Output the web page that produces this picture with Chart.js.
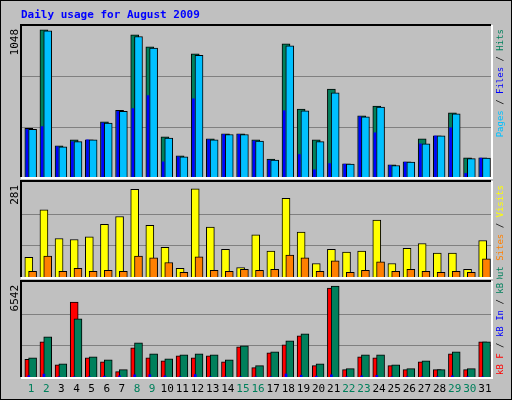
<!DOCTYPE html>
<html>
<head>
<meta charset="utf-8">
<script src="https://cdn.jsdelivr.net/npm/chart.js@4"></script>
<style>
  body { margin: 0; background: #fff; }
  #box { position: relative; width: 510px; height: 398px; background: #c0c0c0;
         border: 1px solid #000; overflow: hidden; }
  canvas { position: absolute; left: 0; }
</style>
</head>
<body>
<div id="box">
  <canvas id="top" width="512" height="178" style="top:0"></canvas>
  <canvas id="mid" width="512" height="100" style="top:178px"></canvas>
  <canvas id="bot" width="512" height="122" style="top:278px"></canvas>
</div>
<script>
const days = [];
for (let d = 1; d <= 31; d++) days.push(d);
const weekend = [1, 2, 8, 9, 15, 16, 22, 23, 29, 30];

const hits  = [337,1021,216,258,258,383,462,987,904,279,147,855,265,300,300,258,125,924,472,258,611,92,424,493,84,105,265,285,445,133,133];
const pages = [330,1014,210,245,258,375,455,975,895,270,140,845,258,295,295,250,117,910,460,246,584,89,418,486,80,103,230,285,438,128,131];
const files = [330,350,210,245,258,375,455,475,565,105,140,543,258,295,295,250,115,460,156,50,93,89,418,307,80,103,230,285,342,25,131];

const visits = [58,199,114,111,119,156,179,259,153,88,26,261,148,82,28,125,77,233,133,40,82,74,77,168,40,85,99,71,71,23,108];
const sites  = [17,62,17,26,17,20,17,62,57,43,14,60,20,17,23,20,23,65,57,17,48,14,20,45,17,23,17,14,17,14,54];

const kbF   = [1213,2422,846,5167,1327,1052,366,2011,1327,1120,1464,1327,1464,1052,2080,641,1670,2217,2834,778,6130,503,1395,1327,778,503,1052,503,1601,503,2422];
const kbIn  = [90,200,20,20,20,60,80,150,160,80,20,170,20,20,20,20,20,210,120,60,150,20,80,110,20,20,20,20,80,20,20];
const kbOut = [1327,2765,915,4000,1395,1189,503,2354,1601,1258,1533,1601,1533,1189,2148,778,1738,2491,2971,915,6265,572,1533,1533,846,572,1120,503,1738,572,2422];

const maxTop = 1048, maxMid = 281, maxBot = 6542;

const LEGEND_FONT = "9px 'DejaVu Sans Mono'";

const pts = (vals, off) => vals.map((v, i) => ({ x: days[i] + off, y: v }));

const bar = (label, vals, off, color, thick, order, border = true) => ({
    label, data: pts(vals, off), backgroundColor: color,
    borderColor: "#000", borderWidth: border ? 1 : 0,
    barThickness: thick, order, grouped: false,
});

// frame, grid, side labels
const panelPlugin = (maxVal, legend, legendAlign, extra) => ({
    id: "panel",
    beforeDatasetsDraw(chart) {
        const { ctx, chartArea: a, scales } = chart;
        ctx.save();
        ctx.strokeStyle = "#808080";
        ctx.lineWidth = 1;
        [maxVal / 3, maxVal * 2 / 3].forEach(v => {
            const y = Math.round(scales.y.getPixelForValue(v)) + 0.5;
            ctx.beginPath(); ctx.moveTo(a.left, y); ctx.lineTo(a.right, y); ctx.stroke();
        });
        ctx.restore();
    },
    afterDraw(chart) {
        const { ctx, chartArea: a } = chart;
        ctx.save();
        ctx.lineWidth = 2;
        ctx.strokeStyle = "#000";
        ctx.beginPath(); ctx.moveTo(a.left - 1, a.bottom); ctx.lineTo(a.left - 1, a.top - 1); ctx.lineTo(a.right, a.top - 1); ctx.stroke();
        ctx.strokeStyle = "#fff";
        ctx.beginPath(); ctx.moveTo(a.right + 1, a.top - 1); ctx.lineTo(a.right + 1, a.bottom + 1); ctx.lineTo(a.left - 1, a.bottom + 1); ctx.stroke();

        // max value, rotated
        ctx.save();
        ctx.font = "11px 'DejaVu Sans Mono'";
        ctx.translate(14, a.top + 3);
        ctx.rotate(-Math.PI / 2);
        ctx.fillStyle = "#000";
        ctx.textAlign = "right";
        ctx.textBaseline = "middle";
        ctx.fillText(String(maxVal), 0, 0);
        ctx.restore();

        // legend on the right, reading upward
        ctx.save();
        ctx.font = LEGEND_FONT;
        const total = legend.reduce((s, p) => s + ctx.measureText(p[0]).width, 0);
        const startY = legendAlign === "top" ? a.top + 3 + total : a.bottom - 2;
        ctx.translate(a.right + 10, startY);
        ctx.rotate(-Math.PI / 2);
        ctx.textBaseline = "middle";
        let x = 0;
        legend.forEach(([t, c]) => {
            ctx.fillStyle = c;
            ctx.fillText(t, x, 0);
            x += ctx.measureText(t).width;
        });
        ctx.restore();
        if (extra) extra(chart);
        ctx.restore();
    },
});

const baseOptions = (maxVal, pad) => ({
    responsive: false,
    animation: false,
    layout: { padding: pad },
    plugins: { legend: { display: false }, tooltip: { enabled: false } },
    scales: {
        x: { type: "linear", min: 0.55, max: 31.55, offset: false, display: false },
        y: { min: 0, max: maxVal, display: false },
    },
});

new Chart(document.getElementById("top"), {
    type: "bar",
    data: {
        datasets: [
            bar("Files", files, -0.12, "#0000ff", 2, 1, false),
            bar("Pages", pages, 0.25, "#00c0ff", 8, 2),
            bar("Hits", hits, 0.0, "#00805c", 8, 3),
        ],
    },
    options: baseOptions(maxTop, { left: 21, right: 22, top: 25, bottom: 2 }),
    plugins: [panelPlugin(maxTop,
        [["Pages", "#00c0ff"], [" / ", "#000"], ["Files", "#0000ff"], [" / ", "#000"], ["Hits", "#00805c"]],
        "top",
        chart => {
            const ctx = chart.ctx;
            ctx.font = "bold 11px 'DejaVu Sans Mono'";
            ctx.fillStyle = "#0000ff";
            ctx.textBaseline = "middle";
            ctx.textAlign = "left";
            ctx.fillText("Daily usage for August 2009", 20, 14);
        })],
});

new Chart(document.getElementById("mid"), {
    type: "bar",
    data: {
        datasets: [
            bar("Sites", sites, 0.25, "#ff8000", 8, 1),
            bar("Visits", visits, 0.0, "#ffff00", 8, 2),
        ],
    },
    options: baseOptions(maxMid, { left: 21, right: 22, top: 3, bottom: 2 }),
    plugins: [panelPlugin(maxMid,
        [["Out ", "#00805c"], ["Sites", "#ff8000"], [" / ", "#000"], ["Visits", "#ffff00"]],
        "top")],
});

new Chart(document.getElementById("bot"), {
    type: "bar",
    data: {
        datasets: [
            bar("kB In", kbIn, 0.0, "#0000ff", 2, 1, false),
            bar("kB Out", kbOut, 0.25, "#00805c", 8, 2),
            bar("kB F", kbF, 0.0, "#ff0000", 8, 3),
        ],
    },
    options: baseOptions(maxBot, { left: 21, right: 22, top: 3, bottom: 24 }),
    plugins: [panelPlugin(maxBot,
        [["kB F", "#ff0000"], [" / ", "#000"], ["kB In", "#0000ff"], [" / ", "#000"], ["kB", "#00805c"]],
        "bottom",
        chart => {
            const ctx = chart.ctx;
            const xs = chart.scales.x;
            ctx.font = "11px 'DejaVu Sans Mono'";
            ctx.textAlign = "center";
            ctx.textBaseline = "middle";
            days.forEach(d => {
                ctx.fillStyle = weekend.includes(d) ? "#00805c" : "#000";
                ctx.fillText(String(d), xs.getPixelForValue(d + 0.15), chart.chartArea.bottom + 12);
            });
        })],
});
</script>
</body>
</html>
